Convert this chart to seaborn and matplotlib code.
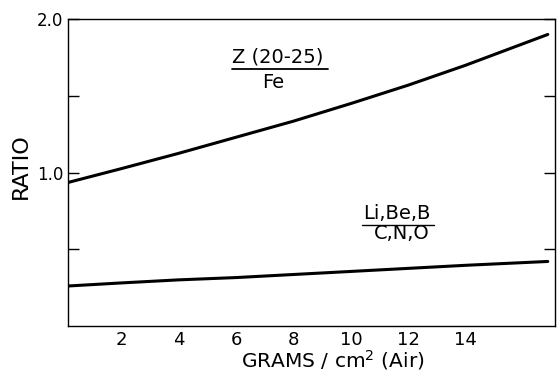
import pandas as pd
import matplotlib
matplotlib.use("Agg")
import matplotlib.pyplot as plt
import seaborn as sns

# ===========================================================
# Data
# ===========================================================

grams = [0.15, 2, 4, 6, 8, 10, 12, 14, 16.85]
z_fe = [0.935, 1.025, 1.125, 1.23, 1.335, 1.45, 1.57, 1.70, 1.90]
li_cno = [0.26, 0.28, 0.30, 0.315, 0.335, 0.355, 0.375, 0.395, 0.42]

x_ticks = [2, 4, 6, 8, 10, 12, 14]
y_ticks = [0.5, 1.0, 1.5, 2.0]
y_labels = ["", "1.0", "", "2.0"]

df = pd.DataFrame({
    "grams": grams * 2,
    "ratio": z_fe + li_cno,
    "series": ["Z/Fe"] * len(grams) + ["LiBeB/CNO"] * len(grams),
})

# ===========================================================
# Figure
# ===========================================================

sns.set_style("white")
plt.rcParams["font.family"] = ["DejaVu Sans"]
plt.rcParams["text.color"] = "black"
plt.rcParams["axes.labelcolor"] = "black"
plt.rcParams["xtick.color"] = "black"
plt.rcParams["ytick.color"] = "black"

fig = plt.figure(figsize=(5.6, 3.75), dpi=100)
ax = fig.add_axes([0.121, 0.131, 0.870, 0.818])

sns.lineplot(
    data=df,
    x="grams",
    y="ratio",
    units="series",
    estimator=None,
    color="black",
    linewidth=2.2,
    ax=ax,
)

ax.set_xlim(0.14, 17.1)
ax.set_ylim(0, 2.0)

ax.set_xticks(x_ticks)
ax.set_xticklabels([str(t) for t in x_ticks], fontsize=13)
ax.set_yticks(y_ticks)
ax.set_yticklabels(y_labels, fontsize=12)

ax.tick_params(axis="x", direction="in", length=10, width=1, pad=4)
ax.tick_params(axis="y", direction="in", length=8, width=1, pad=3,
               left=True, right=True)

for side in ["left", "right", "top", "bottom"]:
    ax.spines[side].set_visible(True)
    ax.spines[side].set_color("black")
    ax.spines[side].set_linewidth(1.0)

ax.set_xlabel("GRAMS / cm$^2$ (Air)", fontsize=14.5)
ax.set_ylabel("RATIO", fontsize=16)
ax.xaxis.set_label_coords(0.544, -0.11)
ax.yaxis.set_label_coords(-0.097, 0.52)
ax.xaxis.label.set_va("center")
ax.yaxis.label.set_va("center")

# curve labels (fractions)
ax.text(7.46, 1.75, "Z (20-25)", ha="center", va="center", fontsize=14)
ax.plot([5.85, 9.2], [1.675, 1.675], color="black", linewidth=1.3)
ax.text(7.3, 1.585, "Fe", ha="center", va="center", fontsize=14)

ax.text(11.6, 0.73, "Li,Be,B", ha="center", va="center", fontsize=14)
ax.plot([10.4, 12.9], [0.655, 0.655], color="black", linewidth=1.0)
ax.text(11.75, 0.605, "C,N,O", ha="center", va="center", fontsize=14)

plt.savefig("out.png", dpi=100)
